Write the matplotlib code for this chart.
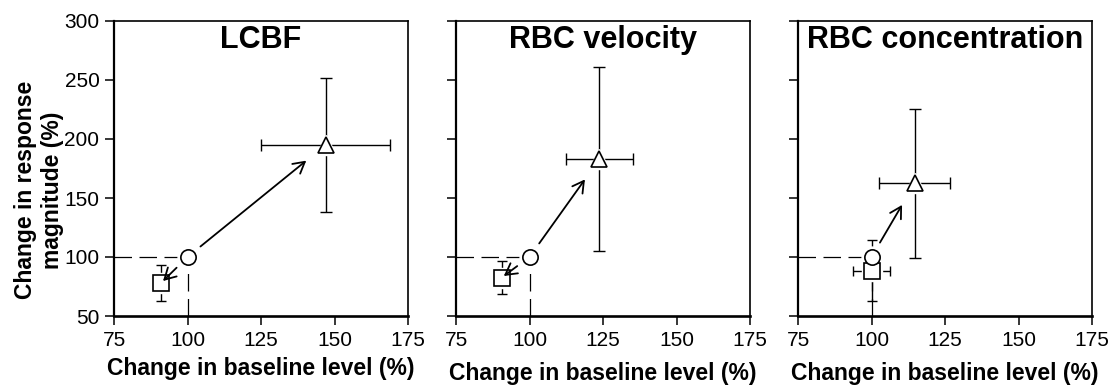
import numpy as np
import matplotlib
matplotlib.use("Agg")
import matplotlib.pyplot as plt

plt.rcParams['font.family'] = ['Liberation Sans', 'DejaVu Sans']

# data
titles = ["LCBF", "RBC velocity", "RBC concentration"]
base_x = [100, 100, 100]
base_y = [100, 100, 100]
sq_x = [91, 90.5, 100]
sq_y = [78, 82.5, 88.5]
sq_xerr = [0, 0, 6.4]
sq_yerr = [15.3, 13.7, 25.5]
tri_x = [147, 123.8, 114.7]
tri_y = [195, 183, 162.4]
tri_xerr = [22, 11.5, 12]
tri_yerr = [56.7, 77.6, 63]

xticks = [75, 100, 125, 150, 175]
yticks = [50, 100, 150, 200, 250, 300]

W, H = 1110, 385
fig = plt.figure(figsize=(W/100, H/100), dpi=100)
lefts = [114, 456, 798]
xlabel_pads = [5, 9, 9]
head = '->,head_length=0.8,head_width=0.45'

for i in range(3):
    ax = fig.add_axes([lefts[i]/W, (H-316)/H, 294/W, 295/H])
    ax.set_xlim(xticks[0], xticks[-1])
    ax.set_ylim(yticks[0], yticks[-1])
    ax.set_xticks(xticks)
    ax.set_yticks(yticks)
    ax.tick_params(direction='out', length=6.5, width=1.1, labelsize=15, pad=4,
                   labelleft=(i == 0))
    ax.spines['left'].set_linewidth(1.6)
    ax.spines['bottom'].set_linewidth(1.9)
    ax.spines['top'].set_linewidth(1.2)
    ax.spines['right'].set_linewidth(1.2)

    # dashed guides to the baseline point
    ax.plot([xticks[0], base_x[i]], [base_y[i], base_y[i]], color='k', lw=0.9,
            dashes=(14, 6), zorder=1)
    ax.plot([base_x[i], base_x[i]], [yticks[0], base_y[i]], color='k', lw=0.9,
            dashes=(14, 6), zorder=1)

    # error bars
    ax.errorbar(sq_x[i], sq_y[i], xerr=sq_xerr[i] or None, yerr=sq_yerr[i],
                fmt='none', ecolor='k', elinewidth=1.0, capsize=3.5, capthick=1.0,
                zorder=2)
    ax.errorbar(tri_x[i], tri_y[i], xerr=tri_xerr[i], yerr=tri_yerr[i],
                fmt='none', ecolor='k', elinewidth=1.0, capsize=4, capthick=1.0,
                zorder=2)

    # markers with a white halo
    for mx, my, mk in [(sq_x[i], sq_y[i], 's'), (tri_x[i], tri_y[i], '^'),
                       (base_x[i], base_y[i], 'o')]:
        ax.plot(mx, my, marker=mk, ms=15, mfc='white', mec='white', zorder=3)
        ax.plot(mx, my, marker=mk, ms=11, mfc='white', mec='k', mew=1.2, zorder=4)

    # arrows: baseline -> square (only if the markers are apart), baseline -> triangle
    p0 = ax.transData.transform((base_x[i], base_y[i]))
    p1 = ax.transData.transform((sq_x[i], sq_y[i]))
    if np.hypot(*(p1 - p0)) > 20:
        ax.annotate('', xy=(sq_x[i], sq_y[i]), xytext=(base_x[i], base_y[i]),
                    arrowprops=dict(arrowstyle=head, color='k', lw=1.3,
                                    shrinkA=11, shrinkB=2), zorder=5)
    ax.annotate('', xy=(tri_x[i], tri_y[i]), xytext=(base_x[i], base_y[i]),
                arrowprops=dict(arrowstyle=head, color='k', lw=1.3,
                                shrinkA=12, shrinkB=18), zorder=5)

    ax.text(0.5, 0.985, titles[i], transform=ax.transAxes, ha='center', va='top',
            fontsize=22, fontweight='bold')
    ax.set_xlabel('Change in baseline level (%)', fontsize=16.5, fontweight='bold',
                  labelpad=xlabel_pads[i])
    if i == 0:
        ax.set_ylabel('Change in response\nmagnitude (%)', fontsize=16.5,
                      fontweight='bold', ha='center', va='center', linespacing=1.25)
        ax.yaxis.set_label_coords(-0.255, 0.427)

fig.savefig('out.png', dpi=100)
